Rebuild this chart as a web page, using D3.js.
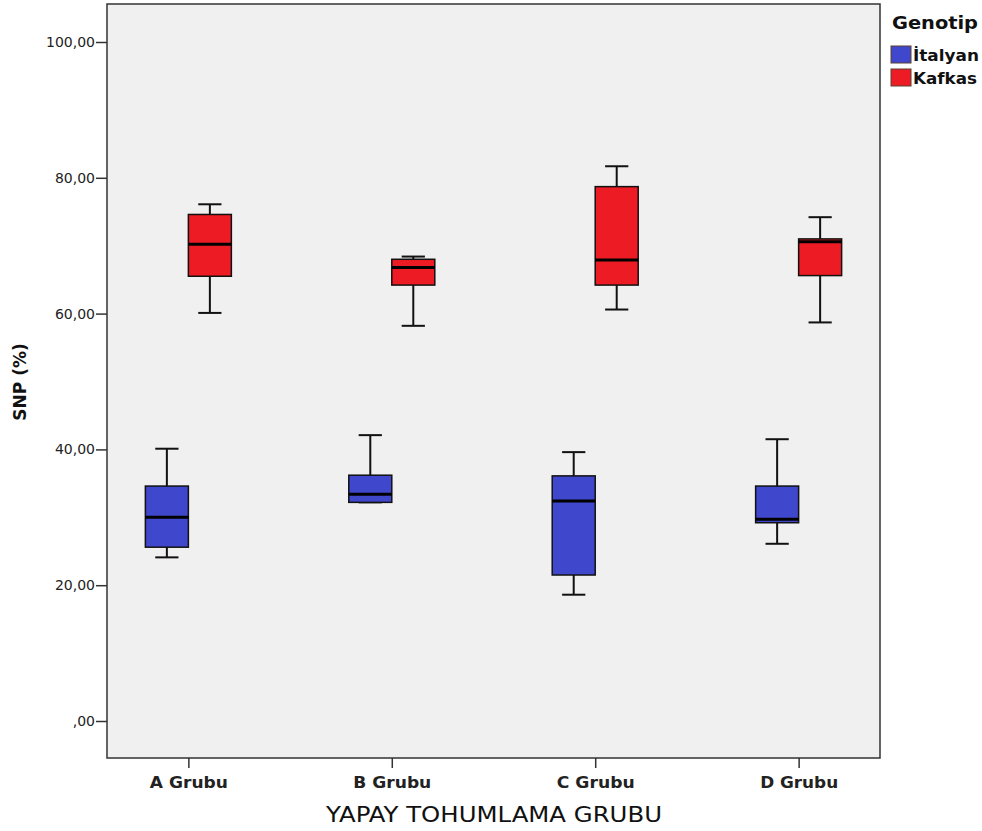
<!DOCTYPE html>
<html>
<head>
<meta charset="utf-8">
<script src="https://cdn.jsdelivr.net/npm/d3@7"></script>
<style>
  body { margin: 0; background: #fff; }
  svg { display: block; font-family: "DejaVu Sans", sans-serif; }
</style>
</head>
<body>
<svg id="chart" width="982" height="831"></svg>
<script>
// gruplar ve genotipler
const groups = ['A Grubu', 'B Grubu', 'C Grubu', 'D Grubu'];
const genotypes = ['İtalyan', 'Kafkas'];
const yTicks = [0, 20, 40, 60, 80, 100];

// [alt bıyık, Q1, medyan, Q3, üst bıyık]
const italyan = [
    [24.1, 25.6, 30.0, 34.6, 40.1],
    [32.2, 32.2, 33.4, 36.2, 42.1],
    [18.6, 21.5, 32.4, 36.1, 39.6],
    [26.1, 29.2, 29.7, 34.6, 41.5]
];
const kafkas = [
    [60.1, 65.5, 70.2, 74.6, 76.1],
    [58.2, 64.2, 66.8, 68.0, 68.4],
    [60.6, 64.2, 67.9, 78.7, 81.7],
    [58.7, 65.6, 70.6, 71.0, 74.2]
];

const colors = { 'İtalyan': '#3f47cc', 'Kafkas': '#ed1c24' };

const frame = { left: 107, top: 4, right: 880, bottom: 758 };
const svg = d3.select('#chart');

const x = d3.scalePoint()
    .domain(groups)
    .range([frame.left, frame.right])
    .padding(0.4);

const y = d3.scaleLinear()
    .domain([0, 100])
    .range([721, 42]);

const sub = d3.scaleBand()
    .domain(genotypes)
    .range([-43, 43]);

// arka plan
svg.append('rect')
    .attr('x', frame.left)
    .attr('y', frame.top)
    .attr('width', frame.right - frame.left)
    .attr('height', frame.bottom - frame.top)
    .attr('fill', '#f0f0f0')
    .attr('stroke', '#333')
    .attr('stroke-width', 1.5);

// eksenler
const yAxis = svg.append('g')
    .attr('transform', `translate(${frame.left},0)`)
    .call(d3.axisLeft(y).tickValues(yTicks).tickSize(11).tickPadding(1)
        .tickFormat(d => d === 0 ? ',00' : d3.format('.2f')(d).replace('.', ',')));
yAxis.select('.domain').remove();
yAxis.selectAll('line').attr('stroke', '#333').attr('stroke-width', 1.5);
yAxis.selectAll('text').attr('font-size', 14).attr('fill', '#222')
    .attr('font-family', '"DejaVu Sans", sans-serif');

const xAxis = svg.append('g')
    .attr('transform', `translate(0,${frame.bottom})`)
    .call(d3.axisBottom(x).tickSize(10).tickPadding(9));
xAxis.select('.domain').remove();
xAxis.selectAll('line').attr('stroke', '#333').attr('stroke-width', 1.5);
xAxis.selectAll('text').attr('font-size', 16).attr('font-weight', 'bold').attr('fill', '#222')
    .attr('font-family', '"DejaVu Sans", sans-serif')
    .attr('textLength', 78).attr('lengthAdjust', 'spacingAndGlyphs');

// kutu grafikleri
const series = [
    { name: 'İtalyan', values: italyan },
    { name: 'Kafkas', values: kafkas }
];

series.forEach(s => {
    const g = svg.append('g');
    s.values.forEach((v, i) => {
        const x0 = x(groups[i]) + sub(s.name);
        const w = sub.bandwidth();
        const cx = x0 + w / 2;
        const capW = w * 0.54;

        // bıyıklar
        g.append('line')
            .attr('x1', cx).attr('x2', cx)
            .attr('y1', y(v[0])).attr('y2', y(v[4]))
            .attr('stroke', '#111').attr('stroke-width', 2);
        [v[0], v[4]].forEach(val => {
            g.append('line')
                .attr('x1', cx - capW / 2).attr('x2', cx + capW / 2)
                .attr('y1', y(val)).attr('y2', y(val))
                .attr('stroke', '#111').attr('stroke-width', 2);
        });

        g.append('rect')
            .attr('x', x0)
            .attr('y', y(v[3]))
            .attr('width', w)
            .attr('height', y(v[1]) - y(v[3]))
            .attr('fill', colors[s.name])
            .attr('stroke', '#111')
            .attr('stroke-width', 1.5);

        g.append('line')
            .attr('x1', x0).attr('x2', x0 + w)
            .attr('y1', y(v[2])).attr('y2', y(v[2]))
            .attr('stroke', '#000').attr('stroke-width', 3);
    });
});

// eksen başlıkları
svg.append('text')
    .attr('x', 494)
    .attr('y', 822)
    .attr('text-anchor', 'middle')
    .attr('font-size', 21)
    .attr('fill', '#111')
    .attr('textLength', 336)
    .attr('lengthAdjust', 'spacingAndGlyphs')
    .text('YAPAY TOHUMLAMA GRUBU');

svg.append('text')
    .attr('transform', 'translate(26,382) rotate(-90)')
    .attr('text-anchor', 'middle')
    .attr('font-size', 17)
    .attr('font-weight', 'bold')
    .attr('fill', '#111')
    .text('SNP (%)');

// lejant
const legend = svg.append('g');
legend.append('text')
    .attr('x', 892)
    .attr('y', 29)
    .attr('font-size', 17)
    .attr('font-weight', 'bold')
    .attr('fill', '#111')
    .attr('textLength', 86)
    .attr('lengthAdjust', 'spacingAndGlyphs')
    .text('Genotip');

genotypes.forEach((name, i) => {
    const ly = 46 + i * 23;
    legend.append('rect')
        .attr('x', 891)
        .attr('y', ly)
        .attr('width', 20)
        .attr('height', 17)
        .attr('fill', colors[name])
        .attr('stroke', '#5a4030')
        .attr('stroke-width', 1);
    legend.append('text')
        .attr('x', 913)
        .attr('y', ly + 15)
        .attr('font-size', 16)
        .attr('font-weight', 'bold')
        .attr('fill', '#111')
        .attr('textLength', name === 'İtalyan' ? 66 : 64)
        .attr('lengthAdjust', 'spacingAndGlyphs')
        .text(name);
});
</script>
</body>
</html>
